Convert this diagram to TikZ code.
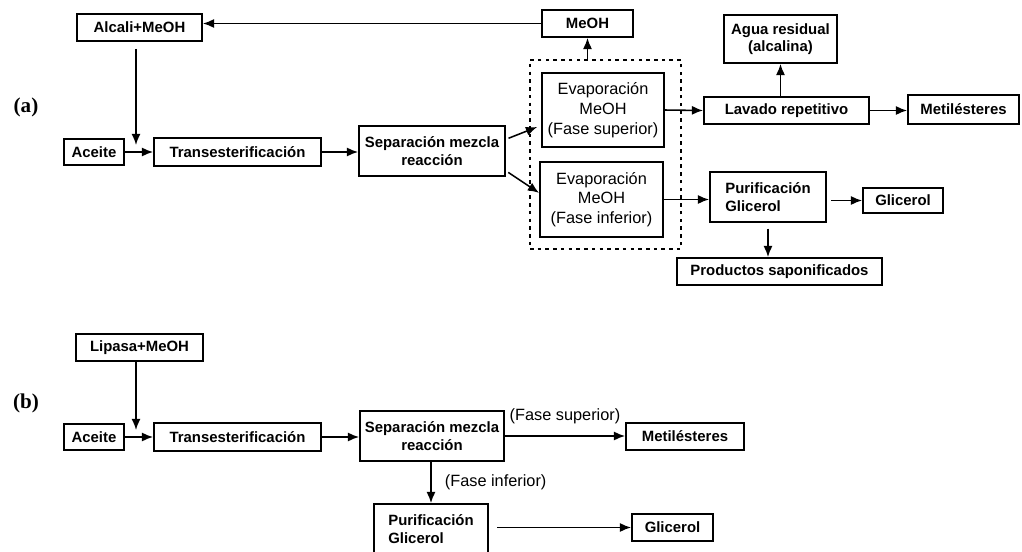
\documentclass[tikz,border=0pt]{standalone}
\usepackage{fontspec}
\setmainfont{Liberation Sans}
\newfontfamily\labfont{Liberation Serif}
\usetikzlibrary{arrows.meta, positioning, calc}
\tikzset{
  box/.style    = {draw=black, line width=1.3pt, inner sep=1pt, align=center,
                   font=\fontsize{10.6}{12.5}\selectfont\bfseries},
  lbox/.style   = {box, align=left},
  ebox/.style   = {box, font=\fontsize{11.6}{14}\selectfont},
  grp/.style    = {draw=black, line width=1.1pt, dash pattern=on 2.5pt off 3pt},
  sz/.style 2 args = {minimum width=#1*0.025cm, minimum height=#2*0.025cm},
  arr/.style    = {-{Latex[length=8pt,width=6.5pt]}, line width=1.1pt, black},
  fase/.style   = {font=\fontsize{11.6}{14}\selectfont},
  part/.style   = {font=\fontsize{15}{18}\selectfont\labfont\bfseries},
}
\begin{document}
\begin{tikzpicture}[x=0.025cm, y=-0.025cm]
  \useasboundingbox (0,0) rectangle (1022,552);

  % (a) alkaline process
  \node[part] (pa) at (26,107) {(a)};
  \node[box, sz={125}{27}] (alcali) at (139.5,27.5) {Alcali+MeOH};
  \node[box, sz={91}{27}]  (meoh)   at (587.5,23.5) {MeOH};
  \node[box, sz={60}{26}]  (aceiteA) at (94,152) {Aceite};
  \node[box, sz={167}{28}] (transA) at (237.5,152) {Transesterificación};
  \node[box, sz={146}{50}] (sepA)   at (432,151) {Separación mezcla\\reacción};
  \node[ebox, sz={122}{74}] (evsup) at (603,110) {Evaporación\\MeOH\\(Fase superior)};
  \node[ebox, sz={123}{75}] (evinf) at (601.5,199.5) {Evaporación\\MeOH\\(Fase inferior)};
  \node[grp, sz={151}{189}] (evgrp) at (605.5,154.5) {};
  \node[box, sz={113}{48}] (agua)   at (780.5,39) {Agua residual\\(alcalina)};
  \node[box, sz={165}{27}] (lavado) at (786.5,110.5) {Lavado repetitivo};
  \node[box, sz={111}{29}] (metilA) at (963.5,109.5) {Metilésteres};
  \node[lbox, sz={116}{50}] (purifA) at (768,197) {Purificación\\Glicerol};
  \node[box, sz={80}{25}]  (glicA)  at (903,200.5) {Glicerol};
  \node[box, sz={205}{27}] (prod)   at (779.5,271.5) {Productos saponificados};
  \coordinate (joinA) at (136,145);

  \draw[arr, shorten <=5pt] (alcali.south -| joinA) -- (joinA);
  \draw[arr] (aceiteA) -- (transA);
  \draw[arr] (transA.east) -- (sepA.west |- transA.east);
  \draw[arr] (meoh.west) -- (alcali.east |- meoh.west);
  \draw[arr] (evgrp.north -| meoh) -- (meoh.south);
  \draw[arr, shorten <=2pt, shorten >=3pt] (sepA.9) -- (evsup.194);
  \draw[arr, shorten <=2pt] (sepA.-15) -- (evinf.174);
  \draw[arr] (evsup.east) -- (lavado.west);
  \draw[arr] (lavado.north -| agua) -- (agua.south);
  \draw[arr] (lavado.east) -- (metilA.west |- lavado.east);
  \draw[arr] (evinf.east) -- (purifA.west |- evinf.east);
  \draw[arr, shorten <=3pt] (purifA.east |- glicA) -- (glicA.west);
  \draw[arr, shorten <=4pt] (purifA.south) -- (prod.north -| purifA.south);

  % (b) enzymatic process
  \node[part] (pb) at (26,403) {(b)};
  \node[box, sz={127}{27}] (lipasa)  at (139.5,347.5) {Lipasa+MeOH};
  \node[box, sz={60}{26}]  (aceiteB) at (94,437) {Aceite};
  \node[box, sz={167}{28}] (transB)  at (237.5,437) {Transesterificación};
  \node[box, sz={144}{50}] (sepB)    at (432,436) {Separación mezcla\\reacción};
  \node[box, sz={118}{27}] (metilB)  at (685,436.5) {Metilésteres};
  \node[lbox, sz={114}{50}] (purifB) at (431,529) {Purificación\\Glicerol};
  \node[box, sz={81}{27}]  (glicB)   at (672.5,527.5) {Glicerol};
  \coordinate (joinB) at (136,430);

  \draw[arr] (lipasa.south -| joinB) -- (joinB);
  \draw[arr] (aceiteB) -- (transB);
  \draw[arr] (transB.east) -- (sepB.west |- transB.east);
  \draw[arr] (sepB.east) -- node[fase, above=5pt] {(Fase superior)} (metilB.west |- sepB.east);
  \draw[arr] (sepB.south -| purifB) -- node[fase, right=6pt] {(Fase inferior)} (purifB.north);
  \draw[arr, shorten <=6pt] (purifB.east |- glicB) -- (glicB.west);
\end{tikzpicture}
\end{document}
